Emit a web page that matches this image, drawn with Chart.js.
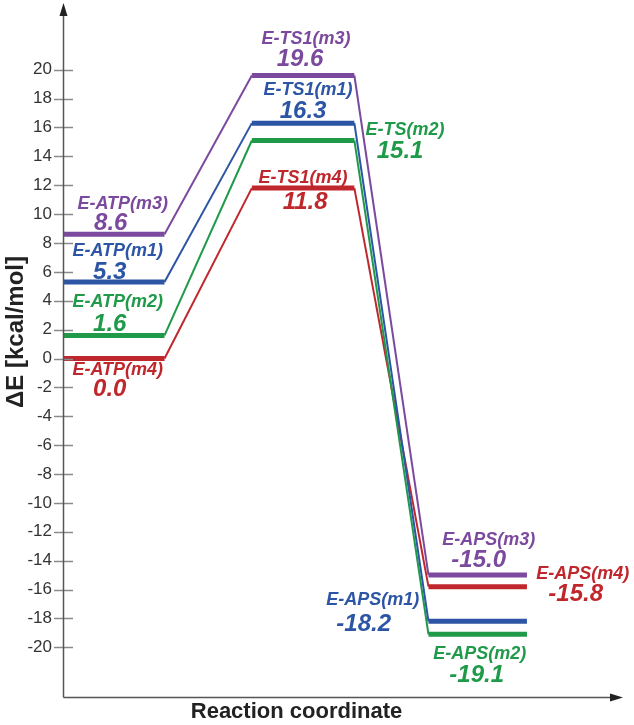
<!DOCTYPE html>
<html>
<head>
<meta charset="utf-8">
<script src="https://cdn.jsdelivr.net/npm/chart.js@4.4.0/dist/chart.umd.min.js"></script>
<style>
  html, body { margin: 0; padding: 0; background: #fff; }
  #contenedor { width: 634px; height: 725px; }
</style>
</head>
<body>
<div id="contenedor"><canvas id="energia"></canvas></div>
<script>
// etapas de la coordenada de reaccion (inicio y fin de cada nivel en x)
const etapas = ['E-ATP', 'E-TS1', 'E-APS'];
const inicioEtapa = [0, 1.86, 3.6];
const finEtapa = [1, 2.87, 4.57];

// energias en kcal/mol
const energiaM1 = [5.3, 16.3, -18.2];
const energiaM2 = [1.6, 15.1, -19.1];
const energiaM3 = [8.6, 19.6, -15.0];
const energiaM4 = [0.0, 11.8, -15.8];

const nombresM1 = ['E-ATP(m1)', 'E-TS1(m1)', 'E-APS(m1)'];
const nombresM2 = ['E-ATP(m2)', 'E-TS(m2)', 'E-APS(m2)'];
const nombresM3 = ['E-ATP(m3)', 'E-TS1(m3)', 'E-APS(m3)'];
const nombresM4 = ['E-ATP(m4)', 'E-TS1(m4)', 'E-APS(m4)'];

const etiquetasY = [-20, -18, -16, -14, -12, -10, -8, -6, -4, -2, 0, 2, 4, 6, 8, 10, 12, 14, 16, 18, 20];

const series = [
    { energia: energiaM3, nombres: nombresM3, color: '#7b4a9e' },
    { energia: energiaM1, nombres: nombresM1, color: '#2c55a5' },
    { energia: energiaM2, nombres: nombresM2, color: '#1e9a48' },
    { energia: energiaM4, nombres: nombresM4, color: '#c0272d' }
];

// desplazamiento de los textos respecto al centro del nivel [dxNombre, dyNombre, dxValor, dyValor]
const desplazamientos = {
    '#7b4a9e': [[9, -30, -3, -11], [3, -36, -3, -16], [11, -35, 1, -15]],
    '#2c55a5': [[4, -31, -4, -10], [5, -33, 0, -12], [-105, -21, -114, 3]],
    '#1e9a48': [[4, -33, -4, -11], [102, -10, 97, 11], [2, 20, -1, 41]],
    '#c0272d': [[4, 12, -4, 31], [0, -10, 2, 14], [105, -13, 98, 8]]
};

const fuente = "'Liberation Sans', Arial, sans-serif";

function puntos(energia) {
    const res = [];
    etapas.forEach((e, i) => {
        res.push({ x: inicioEtapa[i], y: energia[i] });
        res.push({ x: finEtapa[i], y: energia[i] });
    });
    return res;
}

const diagrama = {
    id: 'diagrama',
    afterDraw(chart) {
        const ctx = chart.ctx;
        const area = chart.chartArea;
        const xs = chart.scales.x;
        const ys = chart.scales.y;
        ctx.save();

        // marcas del eje y
        ctx.strokeStyle = '#8a8a8a';
        ctx.lineWidth = 1.5;
        ys.ticks.forEach(t => {
            const y = Math.round(ys.getPixelForValue(t.value)) + 0.5;
            const mayor = etiquetasY.includes(t.value);
            ctx.beginPath();
            ctx.moveTo(area.left + (mayor ? -9 : -5), y);
            ctx.lineTo(area.left + 10, y);
            ctx.stroke();
        });

        // ejes con flecha
        ctx.strokeStyle = '#555';
        ctx.fillStyle = '#222';
        ctx.lineWidth = 1.5;
        const x0 = area.left + 0.5;
        const y0 = area.bottom - 0.5;
        ctx.beginPath();
        ctx.moveTo(x0, y0);
        ctx.lineTo(x0, area.top + 10);
        ctx.moveTo(x0, y0);
        ctx.lineTo(chart.width - 20, y0);
        ctx.stroke();
        ctx.beginPath();
        ctx.moveTo(x0, area.top);
        ctx.lineTo(x0 - 4, area.top + 13);
        ctx.lineTo(x0 + 4, area.top + 13);
        ctx.closePath();
        ctx.fill();
        ctx.beginPath();
        ctx.moveTo(chart.width - 11, y0);
        ctx.lineTo(chart.width - 24, y0 - 4);
        ctx.lineTo(chart.width - 24, y0 + 4);
        ctx.closePath();
        ctx.fill();

        // titulo del eje y
        ctx.save();
        ctx.translate(16, 332);
        ctx.rotate(-Math.PI / 2);
        ctx.fillStyle = '#222';
        ctx.font = 'bold 24px ' + fuente;
        ctx.textAlign = 'center';
        ctx.textBaseline = 'middle';
        ctx.fillText('\u0394E [kcal/mol]', 0, 0);
        ctx.restore();

        // nombres y valores de cada nivel
        ctx.textAlign = 'center';
        ctx.textBaseline = 'middle';
        series.forEach(s => {
            etapas.forEach((e, i) => {
                const cx = (xs.getPixelForValue(inicioEtapa[i]) + xs.getPixelForValue(finEtapa[i])) / 2;
                const cy = ys.getPixelForValue(s.energia[i]);
                const d = desplazamientos[s.color][i];
                ctx.fillStyle = s.color;
                ctx.font = 'italic bold 18px ' + fuente;
                ctx.fillText(s.nombres[i], cx + d[0], cy + d[1]);
                ctx.font = 'italic bold 24px ' + fuente;
                ctx.fillText(s.energia[i].toFixed(1), cx + d[2], cy + d[3]);
            });
        });
        ctx.restore();
    }
};

const ctx = document.getElementById('energia').getContext('2d');
const grafica = new Chart(ctx, {
    type: 'scatter',
    data: {
        datasets: series.map(s => ({
            label: s.nombres[0],
            data: puntos(s.energia),
            showLine: true,
            borderColor: s.color,
            backgroundColor: s.color,
            borderWidth: 2,
            pointRadius: 0,
            borderCapStyle: 'butt',
            segment: {
                borderWidth: c => (c.p0DataIndex % 2 === 0 ? 5 : 2)//los niveles van gruesos
            }
        }))
    },
    options: {
        responsive: true,
        maintainAspectRatio: false,
        animation: false,
        layout: { padding: { top: 3, right: 104, bottom: 0, left: 0 } },
        scales: {
            x: {
                type: 'linear',
                min: 0,
                max: 4.6,
                grid: { display: false, drawTicks: false },
                border: { display: false },
                ticks: { display: false },
                title: {
                    display: true,
                    text: 'Reaction coordinate',
                    color: '#222',
                    font: { family: fuente, size: 22, weight: 'bold' },
                    padding: 0
                },
                afterFit: s => { s.height = 27; s.paddingLeft = 0; s.paddingRight = 0; }
            },
            y: {
                min: -23.51,
                max: 24.62,
                grid: { display: false, drawTicks: false },
                border: { display: false },
                ticks: {
                    padding: 11,
                    color: '#333',
                    font: { family: fuente, size: 17 },
                    callback: v => (etiquetasY.includes(v) ? String(v) : '')
                },
                afterBuildTicks: s => {
                    const valores = [];
                    etiquetasY.forEach((v, i) => {
                        valores.push(v);
                        if (i < etiquetasY.length - 1) valores.push(v + 1);
                    });
                    s.ticks = valores.map(v => ({ value: v }));
                },
                afterFit: s => { s.width = 63; s.paddingTop = 0; s.paddingBottom = 0; }
            }
        },
        plugins: {
            legend: { display: false },
            tooltip: { enabled: false }
        }
    },
    plugins: [diagrama]
});
</script>
</body>
</html>
